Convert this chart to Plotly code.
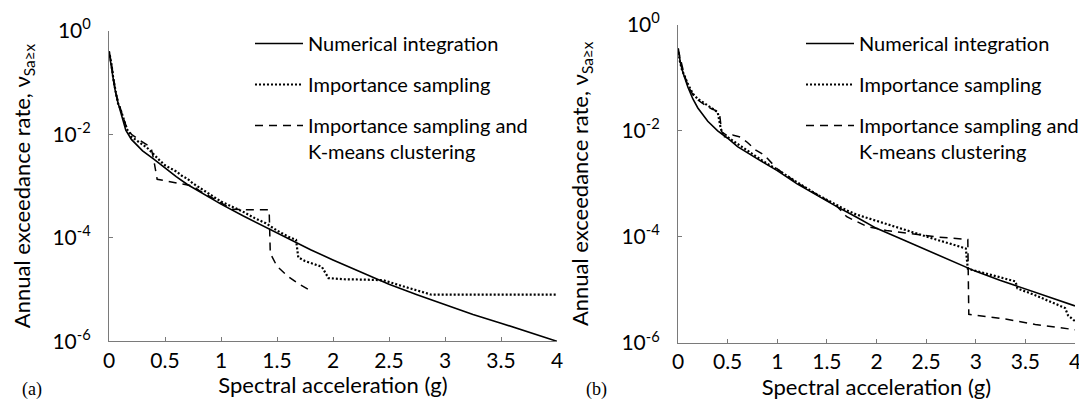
import plotly.graph_objects as go

# ---------------- data ----------------
# Panel (a)
x_ni_a = [0, 0.025, 0.05, 0.075, 0.1, 0.125, 0.15, 0.2, 0.25, 0.3, 0.4, 0.5, 0.6, 0.7, 0.8, 0.9,
          1.0, 1.2, 1.4, 1.6, 1.8, 2.0, 2.25, 2.5, 2.75, 3.0, 3.25, 3.5, 3.75, 4.0]
y_ni_a = [3.98e-1, 1.78e-1, 7.94e-2, 4.47e-2, 2.82e-2, 1.78e-2, 1.20e-2, 7.94e-3, 6.03e-3, 4.79e-3,
          3.31e-3, 2.24e-3, 1.51e-3, 1.07e-3, 7.94e-4, 5.89e-4, 4.47e-4, 2.63e-4, 1.58e-4, 9.55e-5,
          5.89e-5, 3.72e-5, 2.14e-5, 1.26e-5, 7.94e-6, 5.13e-6, 3.31e-6, 2.24e-6, 1.48e-6, 1.00e-6]

x_is_a = [0, 0.02, 0.04, 0.06, 0.08, 0.1, 0.13, 0.16, 0.2, 0.25, 0.3, 0.35, 0.4, 0.45, 0.5, 0.55,
          0.6, 0.65, 0.7, 0.75, 0.8, 0.85, 0.9, 1.0, 1.1, 1.2, 1.3, 1.4, 1.5, 1.6, 1.67, 1.69,
          1.75, 1.85, 1.9, 1.96, 2.1, 2.3, 2.45, 2.6, 2.75, 2.88, 3.2, 3.6, 4.0]
y_is_a = [3.98e-1, 2.40e-1, 1.12e-1, 7.08e-2, 3.98e-2, 3.16e-2, 1.91e-2, 1.26e-2, 8.91e-3, 7.59e-3,
          6.31e-3, 5.25e-3, 3.98e-3, 3.16e-3, 2.51e-3, 2.19e-3, 1.91e-3, 1.58e-3, 1.38e-3, 1.12e-3,
          9.55e-4, 7.94e-4, 6.76e-4, 5.01e-4, 3.98e-4, 3.16e-4, 2.40e-4, 1.91e-4, 1.38e-4, 1.05e-4,
          9.12e-5, 4.17e-5, 3.55e-5, 3.02e-5, 2.75e-5, 1.66e-5, 1.58e-5, 1.55e-5, 1.51e-5, 1.20e-5,
          9.55e-6, 7.94e-6, 7.94e-6, 7.94e-6, 7.94e-6]

x_km_a = [0, 0.02, 0.04, 0.06, 0.08, 0.1, 0.13, 0.16, 0.2, 0.25, 0.3, 0.35, 0.38, 0.4, 0.43, 0.55,
          0.7, 0.75, 0.8, 0.9, 1.0, 1.1, 1.25, 1.43, 1.44, 1.5, 1.6, 1.7, 1.78]
y_km_a = [3.98e-1, 2.51e-1, 1.26e-1, 6.31e-2, 4.47e-2, 3.16e-2, 2.00e-2, 1.32e-2, 1.00e-2, 8.32e-3,
          7.08e-3, 6.03e-3, 5.01e-3, 3.16e-3, 1.35e-3, 1.20e-3, 1.07e-3, 1.00e-3, 8.32e-4, 6.31e-4,
          4.79e-4, 3.55e-4, 3.47e-4, 3.47e-4, 5.01e-5, 2.82e-5, 1.78e-5, 1.26e-5, 1.00e-5]

# Panel (b)
x_ni_b = [0, 0.025, 0.05, 0.075, 0.1, 0.15, 0.2, 0.3, 0.4, 0.5, 0.6, 0.8, 1.0, 1.2, 1.4, 1.6, 1.8,
          2.0, 2.25, 2.5, 2.75, 3.0, 3.25, 3.5, 3.75, 4.0]
y_ni_b = [3.55e-1, 1.91e-1, 1.26e-1, 8.91e-2, 6.61e-2, 3.98e-2, 2.69e-2, 1.51e-2, 1.00e-2, 7.24e-3,
          5.01e-3, 2.95e-3, 1.78e-3, 1.00e-3, 6.03e-4, 3.72e-4, 2.34e-4, 1.45e-4, 9.12e-5, 5.75e-5,
          3.55e-5, 2.24e-5, 1.51e-5, 1.05e-5, 7.24e-6, 5.01e-6]

x_is_b = [0, 0.02, 0.04, 0.07, 0.1, 0.15, 0.2, 0.25, 0.3, 0.35, 0.4, 0.43, 0.46, 0.5, 0.6, 0.7, 0.8,
          0.9, 1.0, 1.2, 1.4, 1.6, 1.7, 1.8, 2.0, 2.2, 2.4, 2.6, 2.8, 2.9, 2.92, 3.0, 3.2, 3.4, 3.42,
          3.6, 3.8, 3.9, 3.93, 4.0]
y_is_b = [3.55e-1, 2.00e-1, 1.41e-1, 1.00e-1, 7.59e-2, 5.01e-2, 3.98e-2, 3.47e-2, 3.02e-2, 2.63e-2,
          2.24e-2, 1.12e-2, 7.94e-3, 7.59e-3, 5.62e-3, 4.17e-3, 3.16e-3, 2.40e-3, 1.86e-3, 1.07e-3,
          6.31e-4, 3.98e-4, 3.16e-4, 2.63e-4, 2.00e-4, 1.51e-4, 1.15e-4, 8.91e-5, 6.92e-5, 6.03e-5,
          2.51e-5, 2.29e-5, 1.82e-5, 1.45e-5, 1.07e-5, 7.94e-6, 5.50e-6, 4.57e-6, 3.31e-6, 2.57e-6]

x_km_b = [0, 0.03, 0.06, 0.1, 0.15, 0.2, 0.3, 0.38, 0.42, 0.44, 0.5, 0.55, 0.63, 0.7, 0.78, 0.87,
          0.95, 1.0, 1.2, 1.4, 1.5, 1.6, 1.7, 1.9, 2.1, 2.3, 2.6, 2.92, 2.93, 3.3, 3.6, 4.0]
y_km_b = [3.55e-1, 2.00e-1, 1.20e-1, 7.08e-2, 4.79e-2, 3.80e-2, 2.82e-2, 2.40e-2, 2.00e-2, 9.55e-3,
          7.94e-3, 8.32e-3, 7.59e-3, 6.03e-3, 4.37e-3, 3.47e-3, 2.40e-3, 1.91e-3, 1.05e-3, 6.31e-4,
          4.79e-4, 3.80e-4, 2.40e-4, 1.58e-4, 1.32e-4, 1.17e-4, 1.00e-4, 8.91e-5, 3.47e-6, 2.82e-6,
          2.24e-6, 1.78e-6]

x_tick_vals = [0, 0.5, 1, 1.5, 2, 2.5, 3, 3.5, 4]
x_tick_text = ["0", "0.5", "1", "1.5", "2", "2.5", "3", "3.5", "4"]
y_tick_vals = [1, 1e-2, 1e-4, 1e-6]
y_tick_text = ["10<sup>0</sup>", "10<sup>-2</sup>", "10<sup>-4</sup>", "10<sup>-6</sup>"]

series_names = ["Numerical integration", "Importance sampling",
                "Importance sampling and<br>K-means clustering"]

# ---------------- figure ----------------
FONT = "Lato, 'Open Sans', sans-serif"
W, H = 1087, 404

styles = [dict(color="black", width=1.6, dash="solid"),
          dict(color="black", width=2.2, dash="2px,2px"),
          dict(color="black", width=1.5, dash="8px,6px")]

fig = go.Figure()
panels = [
    ("x", "y", "legend", [(x_ni_a, y_ni_a), (x_is_a, y_is_a), (x_km_a, y_km_a)]),
    ("x2", "y2", "legend2", [(x_ni_b, y_ni_b), (x_is_b, y_is_b), (x_km_b, y_km_b)]),
]
for xa, ya, leg, series in panels:
    for i, (xs, ys) in enumerate(series):
        fig.add_trace(go.Scatter(
            x=xs, y=ys, mode="lines", name=series_names[i], line=styles[i],
            xaxis=xa, yaxis=ya, legend=leg, legendgroup=f"{leg}_{i}",
            showlegend=True, hoverinfo="skip"))

axis_common = dict(showline=True, linecolor="#7a7a7a", linewidth=1, ticks="inside",
                   ticklen=4, tickcolor="#7a7a7a", showgrid=False, zeroline=False,
                   automargin=False, mirror=False)

def xaxis(domain, anchor):
    return dict(axis_common, domain=domain, anchor=anchor, range=[0, 4],
                tickmode="array", tickvals=x_tick_vals, ticktext=x_tick_text,
                tickfont=dict(family=FONT, size=21, color="black"),
                title=dict(text="Spectral acceleration (g)",
                           font=dict(family=FONT, size=22, color="black"), standoff=4))

def yaxis(domain, anchor):
    return dict(axis_common, domain=domain, anchor=anchor, type="log", range=[-6, 0],
                tickmode="array", tickvals=y_tick_vals, ticktext=y_tick_text,
                tickfont=dict(family=FONT, size=21, color="black"), ticklabelstandoff=13,
                title=dict(text="Annual exceedance rate, ν<sub>Sa≥x</sub>",
                           font=dict(family=FONT, size=22, color="black"), standoff=26))

legend_common = dict(bgcolor="rgba(0,0,0,0)", borderwidth=0, font=dict(family=FONT, size=20, color="black"),
                     xanchor="left", yanchor="top", itemwidth=48, tracegroupgap=12,
                     valign="top", itemclick=False, itemdoubleclick=False)

fig.update_layout(
    width=W, height=H, margin=dict(l=0, r=0, t=0, b=0),
    paper_bgcolor="white", plot_bgcolor="white", showlegend=True,
    xaxis=xaxis([101 / W, 549 / W], "y"),
    yaxis=yaxis([1 - 333.3 / H, 1 - 22.7 / H], "x"),
    xaxis2=xaxis([670 / W, 1067 / W], "y2"),
    yaxis2=yaxis([1 - 335 / H, 1 - 16.7 / H], "x2"),
    legend=dict(legend_common, x=242 / W, y=1 - 16 / H),
    legend2=dict(legend_common, x=793 / W, y=1 - 16 / H),
    annotations=[
        dict(text="(a)", x=24 / W, y=1 - 381 / H, xref="paper", yref="paper", showarrow=False,
             xanchor="center", yanchor="middle",
             font=dict(family="Liberation Serif", size=18, color="black")),
        dict(text="(b)", x=588 / W, y=1 - 381 / H, xref="paper", yref="paper", showarrow=False,
             xanchor="center", yanchor="middle",
             font=dict(family="Liberation Serif", size=18, color="black")),
    ],
)

fig.write_html("out.html")
